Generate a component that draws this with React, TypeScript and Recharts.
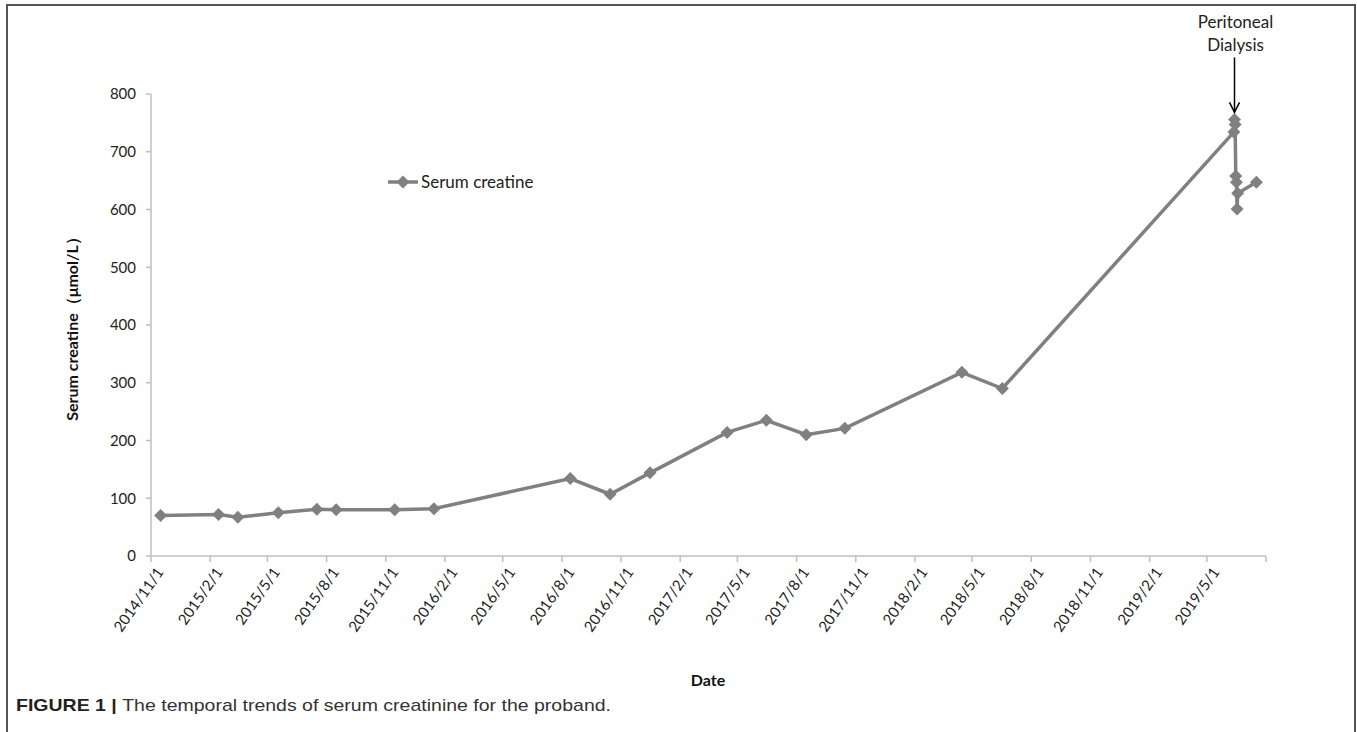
import React from "react";
import { LineChart, Line, XAxis, YAxis, ReferenceDot, Label } from "recharts";

// measurement dates (yyyy-mm-dd) and serum creatinine values (µmol/L)
const DATES = [
  "2014-11-16", "2015-02-14", "2015-03-16", "2015-05-18", "2015-07-17",
  "2015-08-16", "2015-11-15", "2016-01-15", "2016-08-14", "2016-10-15",
  "2016-12-16", "2017-04-15", "2017-06-15", "2017-08-16", "2017-10-15",
  "2018-04-15", "2018-06-17", "2019-06-12", "2019-06-13", "2019-06-14",
  "2019-06-15", "2019-06-16", "2019-06-17", "2019-06-18", "2019-07-17",
];
const CREATININE = [
  70, 72, 67, 75, 81,
  80, 80, 82, 134, 107,
  144, 214, 235, 210, 221,
  318, 290, 734, 756, 747,
  658, 647, 601, 628, 647,
];

const X_TICKS = [
  "2014-11-01", "2015-02-01", "2015-05-01", "2015-08-01", "2015-11-01",
  "2016-02-01", "2016-05-01", "2016-08-01", "2016-11-01", "2017-02-01",
  "2017-05-01", "2017-08-01", "2017-11-01", "2018-02-01", "2018-05-01",
  "2018-08-01", "2018-11-01", "2019-02-01", "2019-05-01",
];
const X_END = "2019-08-01";
const Y_TICKS = [0, 100, 200, 300, 400, 500, 600, 700, 800];

const SERIES_NAME = "Serum creatine";
const DIALYSIS_DATE = "2019-06-13";
const DIALYSIS_VALUE = 756;

const GREY = "#808080";
const AXIS = "#bfbfbf";
const FONT = "Lato, 'Noto Sans', sans-serif";

const toDay = (s: string) => {
  const [y, m, d] = s.split("-").map(Number);
  return Date.UTC(y, m - 1, d) / 86400000;
};
const fmtDay = (day: number) => {
  const d = new Date(day * 86400000);
  return `${d.getUTCFullYear()}/${d.getUTCMonth() + 1}/${d.getUTCDate()}`;
};

const data = DATES.map((d, i) => ({ day: toDay(d), value: CREATININE[i] }));
const endDay = toDay(X_END);

function Diamond(props: any) {
  const { cx, cy, index } = props;
  if (cx == null || cy == null) return <g key={`d${index}`} />;
  const r = 6.5;
  return (
    <path
      key={`d${index}`}
      d={`M${cx},${cy - r}L${cx + r},${cy}L${cx},${cy + r}L${cx - r},${cy}Z`}
      fill={GREY}
    />
  );
}

function DateTick(props: any) {
  const { x, y, payload } = props;
  if (payload.value === endDay) return null;
  return (
    <g transform={`translate(${x + 9},${y + 5})`}>
      <text
        transform="rotate(-55)"
        textAnchor="end"
        dy="0.35em"
        fontSize={15}
        fontFamily={FONT}
        fill="#222"
      >
        {fmtDay(payload.value)}
      </text>
    </g>
  );
}

function DialysisArrow(props: any) {
  const { cx, cy } = props;
  if (cx == null || cy == null) return null;
  return (
    <g>
      <line x1={cx} y1={cy - 62} x2={cx} y2={cy - 7} stroke="#000" strokeWidth={1.5} />
      <polyline
        points={`${cx - 5},${cy - 17} ${cx},${cy - 7} ${cx + 5},${cy - 17}`}
        fill="none"
        stroke="#000"
        strokeWidth={1.5}
      />
      <text x={cx + 1} y={cy - 91} textAnchor="middle" fontSize={17} fontFamily={FONT} fill="#222">
        Peritoneal
      </text>
      <text x={cx + 1} y={cy - 68} textAnchor="middle" fontSize={17} fontFamily={FONT} fill="#222">
        Dialysis
      </text>
    </g>
  );
}

function LegendBox() {
  return (
    <svg width={190} height={24} style={{ position: "absolute", left: 385, top: 170 }}>
      <line x1={3} y1={12} x2={33} y2={12} stroke={GREY} strokeWidth={3.5} />
      <path d="M18,5.5L24.5,12L18,18.5L11.5,12Z" fill={GREY} />
      <text x={36} y={18} fontSize={17} fontFamily={FONT} fill="#222">
        {SERIES_NAME}
      </text>
    </svg>
  );
}

export default function App() {
  return (
    <div style={{ position: "absolute", left: 0, top: 0, width: 1357, height: 732, background: "#fff", overflow: "hidden" }}>
      <div
        style={{
          position: "absolute",
          left: 6,
          top: 4,
          width: 1350,
          height: 728,
          border: "2px solid #555",
          borderBottom: "none",
          boxSizing: "border-box",
        }}
      />
      <div style={{ position: "absolute", left: 0, top: 0 }}>
        <LineChart
          width={1357}
          height={732}
          data={data}
          margin={{ top: 94, right: 91, bottom: 96, left: 91 }}
        >
          <XAxis
            type="number"
            dataKey="day"
            domain={[toDay(X_TICKS[0]), endDay]}
            ticks={[...X_TICKS.map(toDay), endDay]}
            interval={0}
            height={80}
            tick={<DateTick />}
            tickSize={6}
            tickMargin={2}
            axisLine={{ stroke: AXIS, strokeWidth: 1.5 }}
            tickLine={{ stroke: AXIS, strokeWidth: 1.5 }}
          >
            <Label
              content={() => (
                <text x={708} y={686} textAnchor="middle" fontSize={16} fontWeight="bold" fontFamily={FONT} fill="#111">
                  Date
                </text>
              )}
            />
          </XAxis>
          <YAxis
            type="number"
            domain={[0, 800]}
            ticks={Y_TICKS}
            width={60}
            tickSize={5}
            tickMargin={10}
            tick={{ fontSize: 15, fontFamily: FONT, fill: "#222" }}
            axisLine={{ stroke: AXIS, strokeWidth: 1.5 }}
            tickLine={{ stroke: AXIS, strokeWidth: 1.5 }}
          >
            <Label
              content={() => (
                <text
                  x={0}
                  y={0}
                  transform="translate(78,325) rotate(-90)"
                  textAnchor="middle"
                  fontSize={16}
                  fontWeight="bold"
                  fontFamily={FONT}
                  fill="#111"
                >
                  Serum creatine（μmol/L）
                </text>
              )}
            />
          </YAxis>
          <Line
            type="linear"
            dataKey="value"
            name={SERIES_NAME}
            stroke={GREY}
            strokeWidth={3.5}
            dot={(p: any) => <Diamond {...p} />}
            activeDot={false}
            isAnimationActive={false}
          />
          <ReferenceDot
            x={toDay(DIALYSIS_DATE)}
            y={DIALYSIS_VALUE}
            ifOverflow="visible"
            shape={(p: any) => <DialysisArrow {...p} />}
          />
        </LineChart>
      </div>
      <LegendBox />
      <svg style={{ position: "absolute", left: 0, top: 690 }} width={700} height={40}>
        <text x={16} y={21} fontSize={17} fontFamily="'Liberation Sans Narrow', 'Liberation Sans', sans-serif" fill="#333" textLength={595} lengthAdjust="spacingAndGlyphs">
          <tspan fontWeight="bold" fill="#222">FIGURE 1 | </tspan>
          <tspan>The temporal trends of serum creatinine for the proband.</tspan>
        </text>
      </svg>
    </div>
  );
}
